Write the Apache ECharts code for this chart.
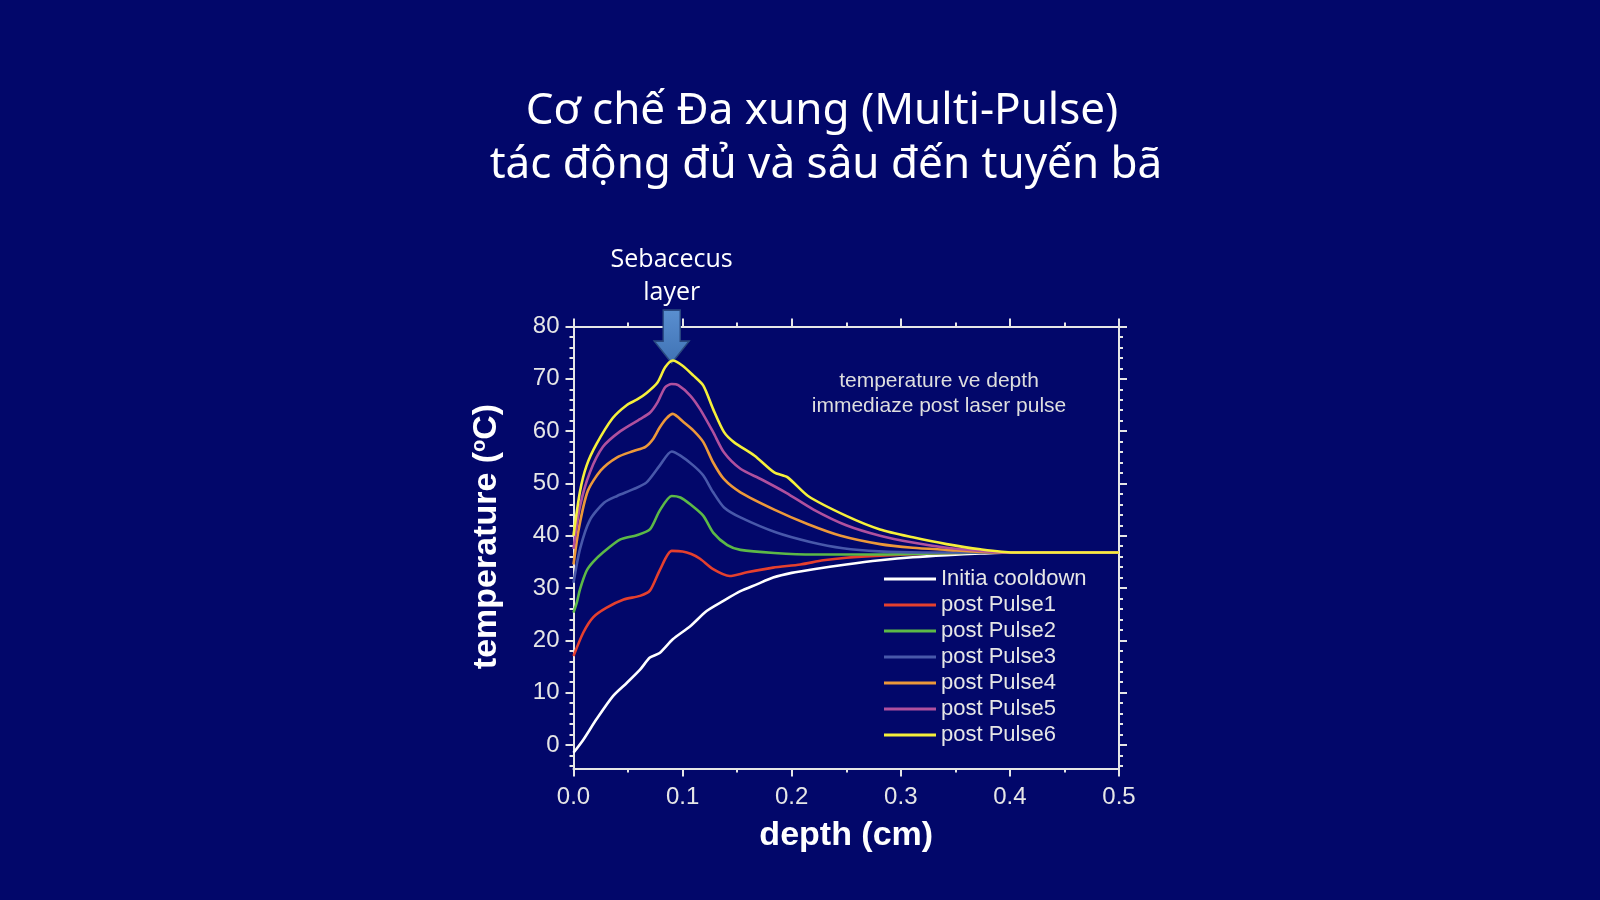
<!DOCTYPE html>
<html><head><meta charset="utf-8">
<script src="https://cdn.jsdelivr.net/npm/echarts@6/dist/echarts.min.js"></script>
<style>html,body{margin:0;padding:0;background:#02076a;}#c{width:1600px;height:900px;}</style>
</head><body><div id="c"></div>
<script>
const seriesNames = ['Initia cooldown','post Pulse1','post Pulse2','post Pulse3','post Pulse4','post Pulse5','post Pulse6'];
const seriesColors = ['#ffffff','#e5402e','#5cb947','#4858aa','#ec983a','#b0509e','#f5ef3a'];

const initiaCooldown = [[0,-1.5],[0.009,1],[0.021,4.9],[0.036,9.3],[0.049,11.9],[0.061,14.4],[0.07,16.7],[0.079,17.6],[0.091,20.2],[0.107,22.7],[0.122,25.6],[0.137,27.5],[0.153,29.4],[0.168,30.7],[0.183,32],[0.2,32.9],[0.22,33.6],[0.25,34.5],[0.281,35.3],[0.311,35.9],[0.342,36.3],[0.373,36.6],[0.403,36.8],[0.45,36.8],[0.5,36.8]];
const postPulse1 = [[0,17],[0.009,21.5],[0.018,24.4],[0.03,26.2],[0.046,27.8],[0.061,28.5],[0.07,29.5],[0.079,33.4],[0.09,37.1],[0.1,37],[0.108,36.5],[0.116,35.6],[0.128,33.6],[0.143,32.3],[0.159,33],[0.183,33.9],[0.208,34.5],[0.229,35.3],[0.25,35.8],[0.281,36.2],[0.33,36.6],[0.373,36.8],[0.5,36.8]];
const postPulse2 = [[0,25.3],[0.003,27.2],[0.006,29.8],[0.012,33.3],[0.018,35],[0.027,36.8],[0.043,39.3],[0.058,40.1],[0.07,41.2],[0.079,44.8],[0.09,47.6],[0.098,47.3],[0.107,46],[0.119,43.8],[0.128,40.6],[0.141,38.2],[0.153,37.3],[0.184,36.7],[0.22,36.4],[0.28,36.4],[0.35,36.7],[0.38,36.8],[0.5,36.8]];
const postPulse3 = [[0,31],[0.006,37.5],[0.015,43],[0.028,46.3],[0.04,47.6],[0.055,48.9],[0.067,50.2],[0.079,53.4],[0.09,56.1],[0.098,55.3],[0.11,53.4],[0.119,51.5],[0.128,48.3],[0.138,45.4],[0.153,43.5],[0.186,40.6],[0.217,38.8],[0.247,37.6],[0.28,37],[0.32,36.8],[0.5,36.8]];
const postPulse4 = [[0,34.5],[0.005,41.5],[0.013,48.5],[0.025,52.5],[0.04,55],[0.055,56.2],[0.066,57],[0.073,58.5],[0.079,60.7],[0.085,62.4],[0.091,63.3],[0.101,61.7],[0.11,60.1],[0.119,57.9],[0.128,54],[0.138,50.8],[0.153,48.3],[0.184,45],[0.215,42.2],[0.245,40],[0.281,38.4],[0.311,37.7],[0.342,37.3],[0.373,36.9],[0.4,36.8],[0.5,36.8]];
const postPulse5 = [[0,37.5],[0.006,45.7],[0.015,52.1],[0.027,57],[0.043,60],[0.061,62.3],[0.07,63.5],[0.077,65.5],[0.084,68.4],[0.09,69],[0.096,68.8],[0.107,66.8],[0.116,64.2],[0.128,59.8],[0.138,55.9],[0.153,52.8],[0.172,50.8],[0.195,48.2],[0.22,45],[0.25,42],[0.281,40],[0.311,38.7],[0.342,37.7],[0.373,37.1],[0.4,36.8],[0.5,36.8]];
const postPulse6 = [[0,40],[0.006,48.5],[0.012,53.4],[0.021,57.5],[0.036,62.5],[0.049,65],[0.058,66],[0.067,67.3],[0.077,69.3],[0.084,72.2],[0.091,73.5],[0.1,72.5],[0.11,70.6],[0.119,68.7],[0.128,64.2],[0.138,59.8],[0.147,57.9],[0.166,55.3],[0.184,52.1],[0.196,51.2],[0.215,47.6],[0.25,43.8],[0.281,41.2],[0.311,39.7],[0.342,38.4],[0.373,37.4],[0.403,36.8],[0.5,36.8]];
const seriesData = [initiaCooldown, postPulse1, postPulse2, postPulse3, postPulse4, postPulse5, postPulse6];

const yMajorTicks = [0,10,20,30,40,50,60,70,80];
const yMinorTicks = [-4,-2,2,4,6,8,12,14,16,18,22,24,26,28,32,34,36,38,42,44,46,48,52,54,56,58,62,64,66,68,72,74,76,78];
const layerMarker = [0.09, 73];

const AX = '#e6e6e6';
const gridBox = {left:573.5, right:481, top:326.5, bottom:131.5, show:false};
const lineStyleAx = {color:AX, width:2};

const chart = echarts.init(document.getElementById('c'));
const series = seriesData.map((d,i)=>({
  name: seriesNames[i], type:'line', data:d, xAxisIndex:0, yAxisIndex:0,
  showSymbol:false, symbol:'none', smooth:0.25, color:seriesColors[i],
  lineStyle:{width:2.6, color:seriesColors[i]}, emphasis:{disabled:true}, z: 2+i
}));
series[6].markPoint = {
  symbol:'path://M11,0 L32,0 L32,31 L43,31 L21.5,53 L0,31 L11,31 Z',
  symbolSize:[43,53], symbolKeepAspect:true, symbolOffset:[0,'-50%'], silent:true,
  itemStyle:{color:{type:'linear', x:0, y:0, x2:0, y2:1, colorStops:[{offset:0, color:'#5a8fd0'},{offset:1, color:'#3f72b4'}]}, borderColor:'#2a4a80', borderWidth:1.5},
  label:{show:true, position:'top', distance:0, formatter:'Sebacecus\nlayer', color:'#ffffff', fontSize:25, lineHeight:33, fontFamily:'Open Sans'},
  emphasis:{disabled:true},
  data:[{coord:layerMarker}]
};

chart.setOption({
  animation:false,
  backgroundColor:'#02076a',
  grid:[gridBox, Object.assign({}, gridBox)],
  legend:{orient:'vertical', left:879, top:563, icon:'rect', itemWidth:52, itemHeight:3, itemGap:4, selectedMode:false,
    textStyle:{color:AX, fontSize:22, fontFamily:'Liberation Sans', lineHeight:22}, data:seriesNames},
  graphic:[
    {type:'text', x:822, y:111, style:{text:'Cơ chế Đa xung (Multi-Pulse)', align:'center', verticalAlign:'middle', fill:'#ffffff', font:'400 44px "Noto Sans"'}},
    {type:'text', x:826, y:165, style:{text:'tác động đủ và sâu đến tuyến bã', align:'center', verticalAlign:'middle', fill:'#ffffff', font:'400 44px "Noto Sans"'}},
    {type:'text', x:939, y:394, style:{text:'temperature ve depth\nimmediaze post laser pulse', align:'center', verticalAlign:'middle', fill:'#dedede', font:'21px "Liberation Sans"', lineHeight:25}}
  ],
  xAxis:[
    {gridIndex:0, type:'value', position:'bottom', min:0, max:0.5, interval:0.1,
      axisLine:{show:true, onZero:false, lineStyle:lineStyleAx},
      axisTick:{show:true, length:8, lineStyle:lineStyleAx},
      minorTick:{show:true, splitNumber:2, length:4, lineStyle:lineStyleAx},
      axisLabel:{color:AX, fontSize:24, fontFamily:'Liberation Sans', margin:17, formatter:v=>v.toFixed(1)},
      splitLine:{show:false}, minorSplitLine:{show:false},
      name:'depth (cm)', nameLocation:'middle', nameGap:50,
      nameTextStyle:{color:'#ffffff', fontSize:34, fontWeight:'bold', fontFamily:'Liberation Sans'}},
    {gridIndex:0, type:'value', position:'top', min:0, max:0.5, interval:0.1,
      axisLine:{show:true, onZero:false, lineStyle:lineStyleAx},
      axisTick:{show:true, length:8, lineStyle:lineStyleAx},
      minorTick:{show:true, splitNumber:2, length:4, lineStyle:lineStyleAx},
      axisLabel:{show:false}, splitLine:{show:false}, minorSplitLine:{show:false}},
    {gridIndex:1, type:'value', show:false, min:0, max:0.5, axisLine:{onZero:false}}
  ],
  yAxis:[
    {gridIndex:0, type:'value', position:'left', min:-4.5, max:80,
      axisLine:{show:true, onZero:false, lineStyle:lineStyleAx},
      axisTick:{show:true, length:8, customValues:yMajorTicks, lineStyle:lineStyleAx},
      axisLabel:{color:AX, fontSize:24, fontFamily:'Liberation Sans', margin:14, customValues:yMajorTicks},
      splitLine:{show:false},
      name:'temperature ({s|o}C)', nameLocation:'middle', nameGap:70,
      nameTextStyle:{color:'#ffffff', fontSize:34, fontWeight:'bold', fontFamily:'Liberation Sans', padding:[0,0,0,22],
        rich:{s:{fontSize:20, fontWeight:'bold', color:'#ffffff', fontFamily:'Liberation Sans', verticalAlign:'top'}}}},
    {gridIndex:0, type:'value', position:'right', min:-4.5, max:80,
      axisLine:{show:true, onZero:false, lineStyle:lineStyleAx},
      axisTick:{show:true, length:8, customValues:yMajorTicks, lineStyle:lineStyleAx},
      axisLabel:{show:false}, splitLine:{show:false}},
    {gridIndex:1, type:'value', position:'left', min:-4.5, max:80,
      axisLine:{show:false, onZero:false},
      axisTick:{show:true, length:4, customValues:yMinorTicks, lineStyle:lineStyleAx},
      axisLabel:{show:false}, splitLine:{show:false}},
    {gridIndex:1, type:'value', position:'right', min:-4.5, max:80,
      axisLine:{show:false, onZero:false},
      axisTick:{show:true, length:4, customValues:yMinorTicks, lineStyle:lineStyleAx},
      axisLabel:{show:false}, splitLine:{show:false}}
  ],
  series: series
});
</script></body></html>
